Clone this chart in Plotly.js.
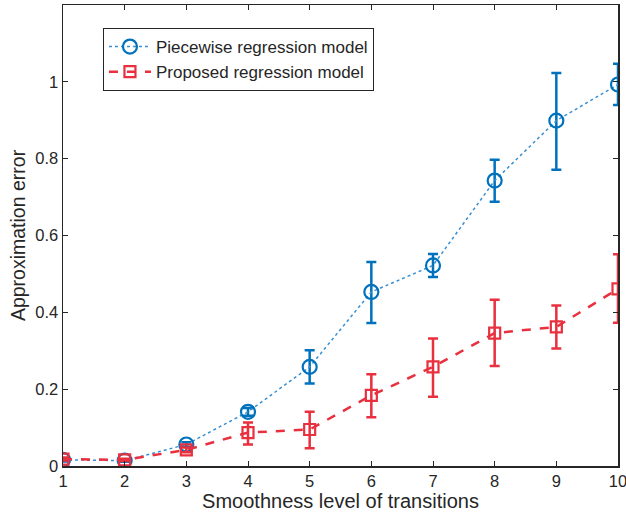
<!DOCTYPE html>
<html><head><meta charset="utf-8">
<script src="https://cdn.plot.ly/plotly-3.0.1.min.js"></script>
<style>html,body{margin:0;padding:0;background:#fff;}#chart{width:626px;height:512px;}</style>
</head><body><div id="chart"></div>
<script>
const levels = [1,2,3,4,5,6,7,8,9,10];
const piecewiseMean = [0.016,0.014,0.056,0.141,0.258,0.453,0.522,0.743,0.899,0.993];
const piecewiseUpper = [0.004,0.003,0.006,0.010,0.043,0.078,0.030,0.054,0.124,0.054];
const piecewiseLower = [0.004,0.003,0.006,0.010,0.043,0.081,0.030,0.055,0.128,0.053];
const proposedMean = [0.018,0.016,0.042,0.087,0.095,0.184,0.258,0.346,0.362,0.461];
const proposedUpper = [0.004,0.003,0.006,0.026,0.046,0.055,0.074,0.087,0.056,0.090];
const proposedLower = [0.004,0.003,0.006,0.031,0.049,0.057,0.078,0.086,0.056,0.088];
const yTicks = [0,0.2,0.4,0.6,0.8,1];
const yTickText = ['0','0.2','0.4','0.6','0.8','1'];

const blue = '#0072BD', red = '#E8303F';
const traces = [
  {x: levels, y: piecewiseMean, name: 'Piecewise regression model', type: 'scatter', mode: 'lines+markers',
   line: {color: '#3a8fd0', width: 1.5, dash: 'dot'},
   marker: {symbol: 'circle-open', size: 14, color: blue, line: {width: 2.2, color: blue}},
   error_y: {type: 'data', symmetric: false, array: piecewiseUpper, arrayminus: piecewiseLower, color: blue, thickness: 2.5, width: 5}},
  {x: levels, y: proposedMean, name: 'Proposed regression model', type: 'scatter', mode: 'lines+markers',
   line: {color: red, width: 2.5, dash: 'dash'},
   marker: {symbol: 'square-open', size: 11, color: red, line: {width: 2.2, color: red}},
   error_y: {type: 'data', symmetric: false, array: proposedUpper, arrayminus: proposedLower, color: red, thickness: 2.5, width: 5}}
];
const font = {family: 'Liberation Sans, Arial, sans-serif', color: '#262626'};
const layout = {
  width: 626, height: 512,
  margin: {l: 63, r: 8, t: 5, b: 46},
  paper_bgcolor: '#fff', plot_bgcolor: '#fff',
  font: Object.assign({size: 16.5}, font),
  showlegend: true,
  legend: {x: 0.072, y: 0.95, xanchor: 'left', yanchor: 'top', bgcolor: '#fff', bordercolor: '#262626', borderwidth: 1,
           font: Object.assign({size: 17}, font), tracegroupgap: 0, itemwidth: 42},
  xaxis: {range: [1,10], tickvals: levels, ticks: 'inside', ticklen: 5, tickcolor: '#262626',
          showline: true, linecolor: '#262626', linewidth: 1.5, mirror: 'ticks', showgrid: false, zeroline: false,
          ticklabeloverflow: 'allow',
          tickfont: Object.assign({size: 16.5}, font),
          title: {text: 'Smoothness level of transitions', font: Object.assign({size: 20}, font), standoff: 0}},
  yaxis: {range: [0,1.2], tickvals: yTicks, ticktext: yTickText, ticks: 'inside', ticklen: 5, tickcolor: '#262626',
          showline: true, linecolor: '#262626', linewidth: 1.5, mirror: 'ticks', showgrid: false, zeroline: false,
          tickfont: Object.assign({size: 16.5}, font),
          title: {text: 'Approximation error', font: Object.assign({size: 19.5}, font), standoff: 4}}
};
Plotly.newPlot('chart', traces, layout, {displayModeBar: false, staticPlot: true});
</script></body></html>
